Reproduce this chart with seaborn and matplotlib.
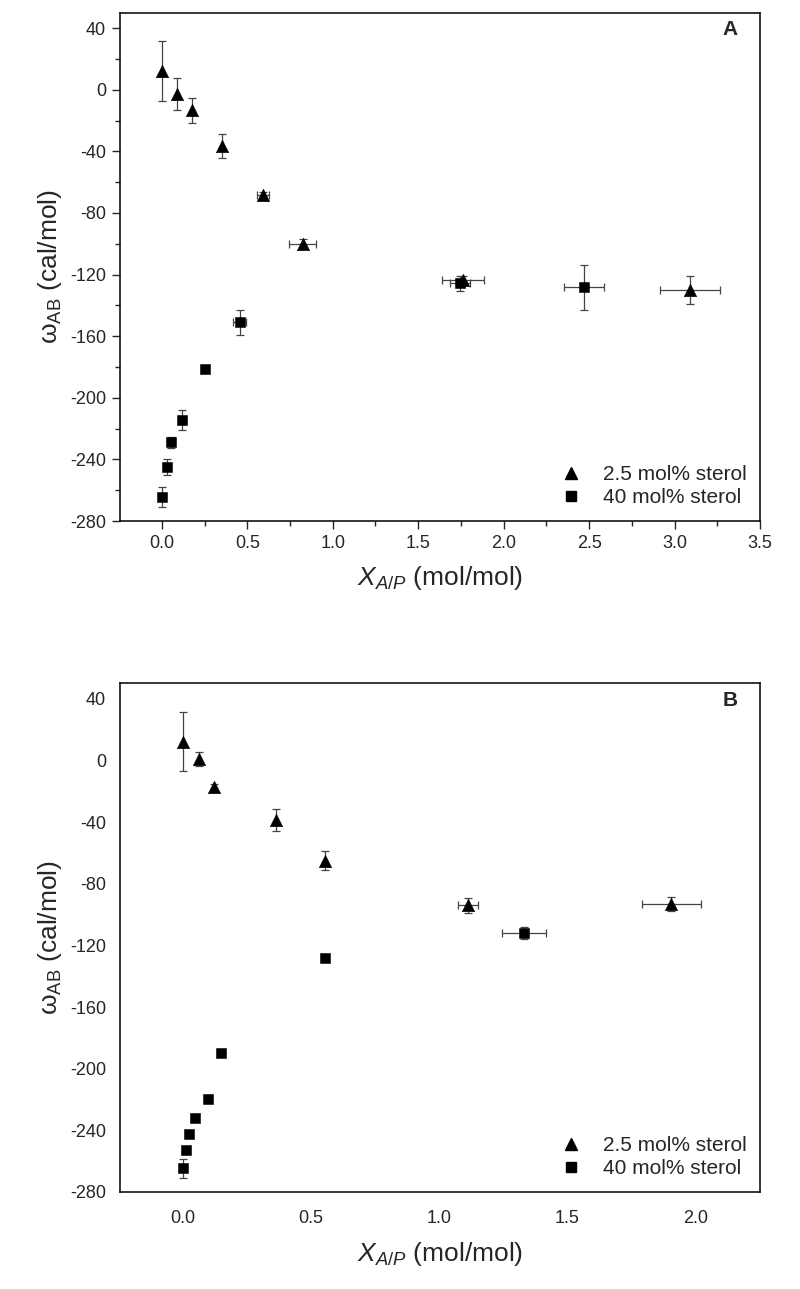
import matplotlib
matplotlib.use("Agg")
import matplotlib.pyplot as plt
import seaborn as sns
import pandas as pd
import numpy as np
from matplotlib.lines import Line2D
from matplotlib.ticker import MultipleLocator

# ---------------- data ----------------
series_names = ["2.5 mol% sterol", "40 mol% sterol"]

# Panel A
triA_x = [0.0, 0.088, 0.174, 0.349, 0.593, 0.823, 1.763, 3.09]
triA_y = [12.1, -2.9, -13.4, -36.6, -68.5, -99.9, -123.7, -130.1]
triA_yerr = [19.5, 10.4, 8.2, 7.6, 2.0, 3.0, 3.0, 9.1]
triA_xerr = [0, 0, 0, 0, 0.036, 0.078, 0.123, 0.177]

sqA_x = [0.0, 0.029, 0.051, 0.119, 0.252, 0.455, 1.744, 2.471]
sqA_y = [-264.6, -244.8, -228.8, -214.5, -181.6, -151.1, -125.8, -128.4]
sqA_yerr = [6.5, 5.3, 3.5, 6.5, 2.0, 8.2, 4.6, 14.8]
sqA_xerr = [0, 0, 0, 0, 0.02, 0.04, 0.058, 0.116]

# Panel B
triB_x = [0.0, 0.064, 0.12, 0.365, 0.556, 1.111, 1.905]
triB_y = [12.2, 0.9, -17.5, -38.7, -65.1, -94.0, -93.0]
triB_yerr = [19.1, 4.5, 2.0, 7.1, 6.3, 5.0, 4.5]
triB_xerr = [0, 0, 0, 0, 0, 0.039, 0.115]

sqB_x = [0.0, 0.012, 0.025, 0.049, 0.100, 0.148, 0.555, 1.33]
sqB_y = [-264.6, -252.5, -242.1, -231.7, -219.5, -190.1, -128.5, -112.0]
sqB_yerr = [6.3, 0, 0, 0, 0, 0, 0, 4.0]
sqB_xerr = [0, 0, 0, 0, 0, 0, 0, 0.086]

y_ticks = [40, 0, -40, -80, -120, -160, -200, -240, -280]
xA_ticks = [0.0, 0.5, 1.0, 1.5, 2.0, 2.5, 3.0, 3.5]
xB_ticks = [0.0, 0.5, 1.0, 1.5, 2.0]

# ---------------- style ----------------
sns.set_theme(style="white")
plt.rcParams["font.family"] = ["Liberation Sans", "DejaVu Sans"]
plt.rcParams["mathtext.fontset"] = "custom"
plt.rcParams["mathtext.rm"] = "Liberation Sans"
plt.rcParams["mathtext.it"] = "Liberation Sans:italic"
plt.rcParams["mathtext.bf"] = "Liberation Sans:bold"

fig = plt.figure(figsize=(8.0, 12.89), dpi=100)
axA = fig.add_axes([0.15, 1 - 521 / 1289, 0.80, (521 - 12.7) / 1289])
axB = fig.add_axes([0.15, 1 - 1192 / 1289, 0.80, (1192 - 683.3) / 1289])


def make_df(tx, ty, sx, sy):
    return pd.DataFrame({
        "x": list(tx) + list(sx),
        "y": list(ty) + list(sy),
        "series": [series_names[0]] * len(tx) + [series_names[1]] * len(sx),
    })


def draw(ax, tx, ty, txe, tye, sx, sy, sxe, sye):
    ecol = "#444444"
    for x, y, xe, ye in ((tx, ty, txe, tye), (sx, sy, sxe, sye)):
        ax.errorbar(x, y, yerr=ye, xerr=xe, fmt="none", ecolor=ecol,
                    elinewidth=0.9, capsize=3.2, capthick=0.9, zorder=2)
    df = make_df(tx, ty, sx, sy)
    d1 = df[df.series == series_names[0]]
    d2 = df[df.series == series_names[1]]
    sns.scatterplot(data=d1, x="x", y="y", marker="^", s=80, color="black",
                    edgecolor="black", linewidth=0.4, ax=ax, zorder=3, legend=False)
    sns.scatterplot(data=d2, x="x", y="y", marker="s", s=48, color="black",
                    edgecolor="black", linewidth=0.4, ax=ax, zorder=3, legend=False)
    for sp in ax.spines.values():
        sp.set_visible(True)
        sp.set_color("black")
        sp.set_linewidth(1.1)
    ax.set_ylim(-280, 50)
    ax.set_yticks(y_ticks)
    ax.set_yticklabels([str(t) for t in y_ticks])
    ax.set_ylabel(r"ω$_\mathregular{AB}$ (cal/mol)", fontsize=19, labelpad=4)
    ax.set_xlabel(r"$X_{A/P}$ (mol/mol)", fontsize=19, labelpad=9)
    handles = [
        Line2D([], [], marker="^", color="black", linestyle="none", markersize=8.5),
        Line2D([], [], marker="s", color="black", linestyle="none", markersize=6.5),
    ]
    ax.legend(handles, series_names, loc="lower right", frameon=False,
              fontsize=15, handletextpad=1.1, labelspacing=0.2,
              borderaxespad=0.25, handlelength=0.8)


draw(axA, triA_x, triA_y, triA_xerr, triA_yerr, sqA_x, sqA_y, sqA_xerr, sqA_yerr)
axA.set_xlim(-0.245, 3.5)
axA.set_xticks(xA_ticks)
axA.set_xticklabels([f"{t:.1f}" for t in xA_ticks])
axA.xaxis.set_minor_locator(MultipleLocator(0.25))
axA.yaxis.set_minor_locator(MultipleLocator(20))
axA.tick_params(axis="both", which="major", direction="out", length=6, width=1.0,
                labelsize=13, bottom=True, left=True, top=False, right=False, pad=4)
axA.tick_params(axis="both", which="minor", direction="out", length=3.5, width=1.0,
                bottom=True, left=True, top=False, right=False)
axA.text(0.965, 0.985, "A", transform=axA.transAxes, ha="right", va="top",
         fontsize=15, fontweight="bold")

draw(axB, triB_x, triB_y, triB_xerr, triB_yerr, sqB_x, sqB_y, sqB_xerr, sqB_yerr)
axB.set_xlim(-0.245, 2.252)
axB.set_xticks(xB_ticks)
axB.set_xticklabels([f"{t:.1f}" for t in xB_ticks])
axB.tick_params(axis="x", which="both", length=0, labelsize=13, pad=13)
axB.tick_params(axis="y", which="both", length=0, labelsize=13, pad=10)
axB.text(0.965, 0.985, "B", transform=axB.transAxes, ha="right", va="top",
         fontsize=15, fontweight="bold")

fig.savefig("out.png", dpi=100, facecolor="white")
